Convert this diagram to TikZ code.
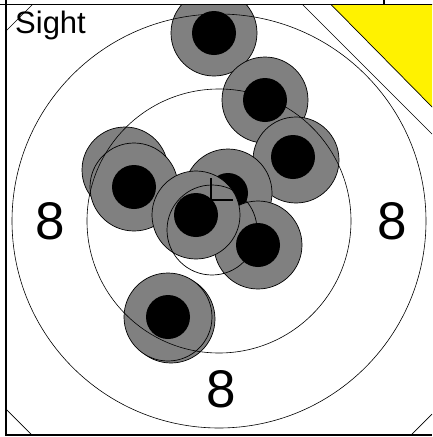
\documentclass[tikz,border=0pt]{standalone}
\usepackage{fontspec}
\setmainfont{Liberation Sans}
\begin{document}
\begin{tikzpicture}[
    x=1pt, y=-1pt,
    frame/.style={draw=black, line width=1.6pt},
    ring/.style={draw=black, line width=0.6pt},
    halo/.style={fill=gray, draw=black, line width=0.7pt},
    hole/.style={fill=black},
    corner/.style={draw=black, line width=0.7pt},
    label/.style={font=\fontsize{53}{60}\selectfont, anchor=base, inner sep=0pt}
]
\useasboundingbox (0,0) rectangle (432,437);
\begin{scope}
\clip (6,4.5) rectangle (432,435);
% yellow corner
\filldraw[fill=yellow, draw=black, line width=0.7pt] (331,4.5) -- (440,4.5) -- (440,115) -- cycle;
% shots
\foreach \gx/\gy in {214/33, 265/100, 296/160, 125/170}
    \filldraw[halo] (\gx,\gy) circle[radius=43pt];
\filldraw[halo] (134,187) circle[radius=44pt];
\fill[hole] (134,187) circle[radius=22pt];
\foreach \bx/\by in {214/33, 265/100, 293/157}
    \fill[hole] (\bx,\by) circle[radius=22pt];
\filldraw[halo] (228,193) circle[radius=44pt];
\fill[hole] (228,193) circle[radius=20pt];
\filldraw[halo] (258,245) circle[radius=44pt];
\fill[hole] (258,245) circle[radius=22pt];
\filldraw[halo] (196,215) circle[radius=44pt];
\fill[hole] (196,215) circle[radius=22pt];
\draw[ring, line width=0.7pt] (212,230) circle[radius=45pt];
\filldraw[halo] (171,319) circle[radius=44pt];
\filldraw[halo] (168,317) circle[radius=44pt];
\fill[hole] (168,317) circle[radius=22pt];
% rings
\draw[ring] (219,221) circle[radius=132pt];
\draw[ring] (219,221) circle[radius=207pt];
% corners
\draw[corner] (6,31) -- (32.5,4.5);
\draw[corner] (302.5,4.5) -- (432,134);
\draw[corner] (6,409) -- (32,435);
\draw[corner] (411,435) -- (432,414);
% aim mark
\draw[black, line width=1.4pt] (211,178) -- (211,200) -- (233,200);
\end{scope}
% frame
\draw[frame] (0,4.5) -- (432,4.5);
\draw[frame] (6,0) -- (6,435) -- (432,435);
\draw[frame] (384,0) -- (384,4.5);
% labels
\node[anchor=base west, inner sep=0pt, font=\fontsize{31}{36}\selectfont] (sight) at (15,33) {Sight};
\node[label] (left8) at (50,239) {8};
\node[label] (right8) at (392,239) {8};
\node[label] (bottom8) at (221,407) {8};
\end{tikzpicture}
\end{document}
